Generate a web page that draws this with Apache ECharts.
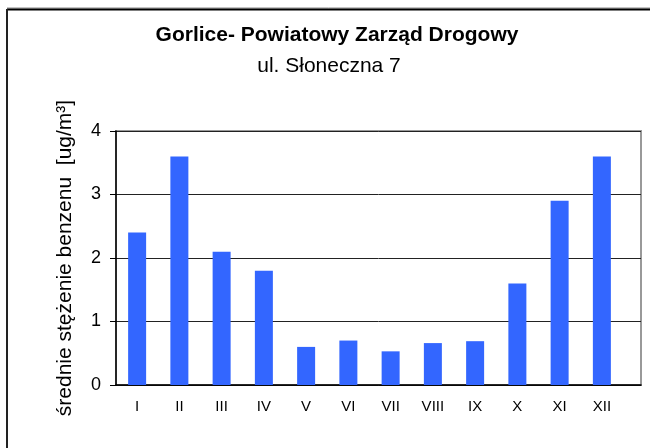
<!DOCTYPE html>
<html>
  <head>
    <meta charset="UTF-8" />
    <title>Gorlice - benzen</title>
    <style>
      html, body { margin: 0; padding: 0; background: #fff; }
      #main { width: 650px; height: 448px; }
    </style>
  </head>
  <body>
    <div id="main"></div>
    <script src="https://cdn.jsdelivr.net/npm/echarts@6/dist/echarts.min.js"></script>
    <script>
      const months = ['I', 'II', 'III', 'IV', 'V', 'VI', 'VII', 'VIII', 'IX', 'X', 'XI', 'XII']
      const benzen = [2.4, 3.6, 2.1, 1.8, 0.6, 0.7, 0.53, 0.66, 0.69, 1.6, 2.9, 3.6]
      const yTicks = [0, 1, 2, 3, 4]

      const font = 'Arial, "Liberation Sans", sans-serif'

      let chart = echarts.init(document.getElementById('main'))
      chart.setOption({
        animation: false,
        backgroundColor: '#fff',
        title: [
          {
            text: 'Gorlice- Powiatowy Zarząd Drogowy',
            left: 337,
            top: 25,
            textAlign: 'center',
            padding: 0,
            textStyle: { fontFamily: font, fontSize: 21, fontWeight: 'bold', color: '#000' },
          },
          {
            text: 'ul. Słoneczna 7',
            left: 329,
            top: 56,
            textAlign: 'center',
            padding: 0,
            textStyle: { fontFamily: font, fontSize: 21, fontWeight: 'normal', color: '#000' },
          },
        ],
        // outer chart frame (only left and top visible)
        graphic: [
          { type: 'line', shape: { x1: 7, y1: 8, x2: 650, y2: 8 }, style: { stroke: '#888', lineWidth: 1 } },
          { type: 'line', shape: { x1: 7, y1: 9.5, x2: 650, y2: 9.5 }, style: { stroke: '#000', lineWidth: 2 } },
          { type: 'line', shape: { x1: 7, y1: 9, x2: 7, y2: 448 }, style: { stroke: '#222', lineWidth: 2 } },
        ],
        grid: [
          // plot frame with gridlines
          { left: 116, right: 9, top: 131, bottom: 63, show: true, borderColor: '#999', borderWidth: 2 },
          // bars
          { left: 116, right: 27, top: 131, bottom: 63 },
        ],
        xAxis: [
          {
            gridIndex: 0,
            type: 'value',
            min: 0,
            max: 1,
            axisLine: { show: true, onZero: false, lineStyle: { color: '#000', width: 1.5 } },
            axisTick: { show: false },
            axisLabel: { show: false },
            splitLine: { show: false },
          },
          {
            gridIndex: 1,
            type: 'category',
            data: months,
            axisLine: { show: false },
            axisTick: { show: false },
            axisLabel: { margin: 14, fontFamily: font, fontSize: 15, color: '#000' },
          },
        ],
        yAxis: [
          {
            gridIndex: 0,
            type: 'value',
            min: yTicks[0],
            max: yTicks[yTicks.length - 1],
            interval: 1,
            name: 'średnie stężenie benzenu  [ug/m³]',
            nameLocation: 'middle',
            nameRotate: 90,
            nameGap: 40,
            nameTextStyle: { fontFamily: font, fontSize: 21, color: '#000' },
            axisLine: { show: true, lineStyle: { color: '#000', width: 1.5 } },
            axisTick: { show: true, length: 6, lineStyle: { color: '#000' } },
            axisLabel: { margin: 15, fontFamily: font, fontSize: 18, color: '#000' },
            splitLine: { show: true, lineStyle: { color: '#222', width: 1 } },
          },
          {
            gridIndex: 1,
            type: 'value',
            min: 0,
            max: 4,
            show: false,
          },
        ],
        series: [
          {
            name: 'benzen',
            type: 'bar',
            xAxisIndex: 1,
            yAxisIndex: 1,
            data: benzen,
            barWidth: 18,
            itemStyle: { color: '#3366FF' },
          },
        ],
      })
    </script>
  </body>
</html>
